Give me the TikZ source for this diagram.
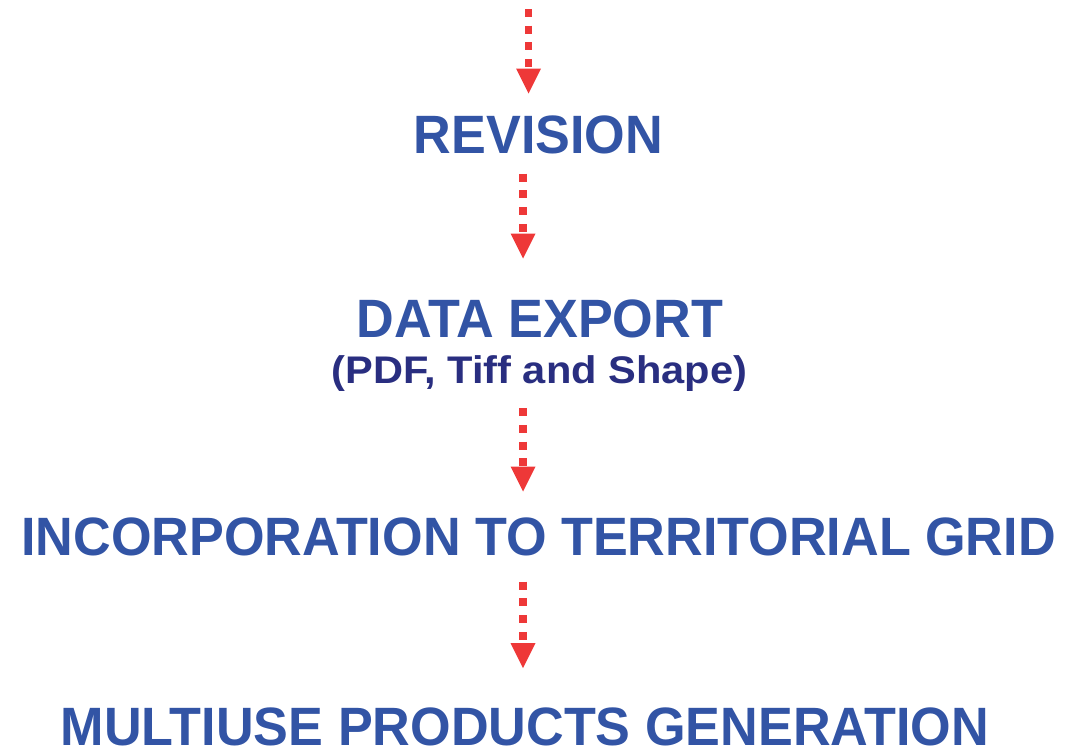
\documentclass[tikz,border=0pt]{standalone}
\usepackage{fontspec}
\setmainfont{Liberation Sans}
\usepackage{tikz}
\usetikzlibrary{arrows.meta,positioning}
\definecolor{stepblue}{RGB}{50,84,165}
\definecolor{subnavy}{RGB}{41,46,128}
\definecolor{flowred}{RGB}{238,56,56}

\tikzset{
  steptext/.style={anchor=base, inner sep=0pt, text=stepblue,
    font=\fontsize{54}{54}\selectfont\bfseries, xscale=0.966},
  subtext/.style={anchor=base, inner sep=0pt, text=subnavy,
    font=\fontsize{38.5}{38.5}\selectfont\bfseries, xscale=1.08},
  flow/.style={draw=flowred, line width=7.6pt, dash pattern=on 8pt off 8.7pt,
    -{Triangle[width=25pt,length=25pt,line width=0pt]}}
}

\begin{document}
\begin{tikzpicture}[x=1pt,y=1pt]
  \useasboundingbox (0,0) rectangle (1066,-748);
  % steps
  \node [steptext] (revision) at (538.5,-153) {REVISION};
  \node [steptext] (export) at (540,-337) {DATA EXPORT};
  \node [subtext] (exportsub) at (539.5,-383) {(PDF, Tiff and Shape)};
  \node [steptext] (grid) at (538.5,-555) {INCORPORATION TO TERRITORIAL GRID};
  \node [steptext] (products) at (525,-745) {MULTIUSE PRODUCTS GENERATION};
  % arrows
  \coordinate (start) at (528.5,-9);
  \draw [flow] (start) -- ([shift={(-10pt,21.6pt)}]revision.north);
  \draw [flow] ([shift={(-15.5pt,-20pt)}]revision.south) -- ([shift={(-17pt,40.6pt)}]export.north);
  \draw [flow] ([shift={(-16.5pt,-17pt)}]exportsub.south) -- ([shift={(-15.5pt,25.6pt)}]grid.north);
  \draw [flow] ([shift={(-15.5pt,-26pt)}]grid.south) -- ([shift={(-2pt,39pt)}]products.north);
\end{tikzpicture}
\end{document}
